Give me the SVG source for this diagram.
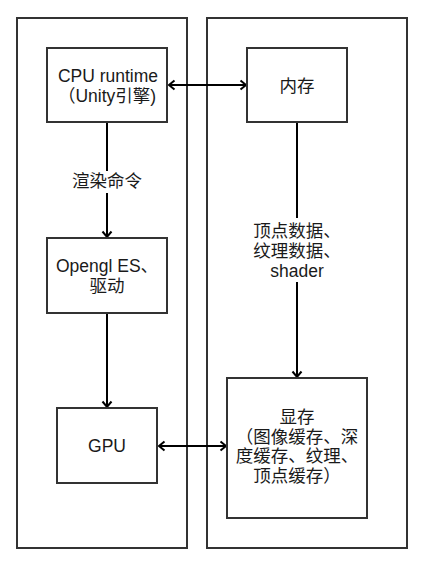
<svg xmlns="http://www.w3.org/2000/svg" width="424" height="566" viewBox="0 0 424 566">
<style>
.box{fill:#fff;stroke:#333;stroke-width:2}
.cont{fill:none;stroke:#333;stroke-width:2}
.t{font-family:"Liberation Sans","Noto Sans CJK SC",sans-serif;font-size:17.5px;fill:#1a1a1a;text-anchor:middle}
.edge{stroke:#000;stroke-width:2;fill:none}
.lbl{fill:#fff;stroke:none}
</style>
<defs>
<marker id="arr" markerUnits="userSpaceOnUse" markerWidth="12" markerHeight="12" refX="8" refY="6" orient="auto-start-reverse">
<path d="M2.5,1.5 L8,6 L2.5,10.5" fill="none" stroke="#000" stroke-width="2"/>
</marker>
</defs>
<rect width="424" height="566" fill="#fff"/>
<g id="cpu-side"><rect class="cont" x="17" y="18" width="170" height="530"/></g>
<g id="mem-side"><rect class="cont" x="207" y="18" width="200" height="530"/></g>
<g id="connectors">
<line class="edge" x1="169" y1="85" x2="246" y2="85" marker-start="url(#arr)" marker-end="url(#arr)"/>
<line class="edge" x1="107" y1="122" x2="107" y2="237" marker-end="url(#arr)"/>
<rect class="lbl" x="71" y="171" width="72" height="22"/>
<text class="t" x="107" y="187">渲染命令</text>
<line class="edge" x1="107" y1="313" x2="107" y2="407" marker-end="url(#arr)"/>
<line class="edge" x1="297" y1="122" x2="297" y2="377" marker-end="url(#arr)"/>
<rect class="lbl" x="252" y="218" width="90" height="64"/>
<text class="t" x="297" y="237">顶点数据、</text>
<text class="t" x="297" y="257">纹理数据、</text>
<text class="t" x="297" y="277">shader</text>
<line class="edge" x1="159" y1="446" x2="226" y2="446" marker-start="url(#arr)" marker-end="url(#arr)"/>
</g>
<g id="cpu">
<rect class="box" x="47" y="48" width="120" height="74"/>
<text class="t" x="108" y="82">CPU runtime</text>
<text class="t" x="107" y="102">（Unity引擎)</text>
</g>
<g id="memory">
<rect class="box" x="247" y="48" width="100" height="74"/>
<text class="t" x="297" y="92">内存</text>
</g>
<g id="opengl">
<rect class="box" x="47" y="238" width="120" height="75"/>
<text class="t" x="107" y="272">Opengl ES、</text>
<text class="t" x="107" y="292">驱动</text>
</g>
<g id="gpu">
<rect class="box" x="57" y="408" width="100" height="75"/>
<text class="t" x="107" y="452">GPU</text>
</g>
<g id="vram">
<rect class="box" x="227" y="378" width="140" height="140"/>
<text class="t" x="297" y="423">显存</text>
<text class="t" x="297" y="443">（图像缓存、深</text>
<text class="t" x="297" y="462">度缓存、纹理、</text>
<text class="t" x="297" y="482">顶点缓存）</text>
</g>
</svg>
